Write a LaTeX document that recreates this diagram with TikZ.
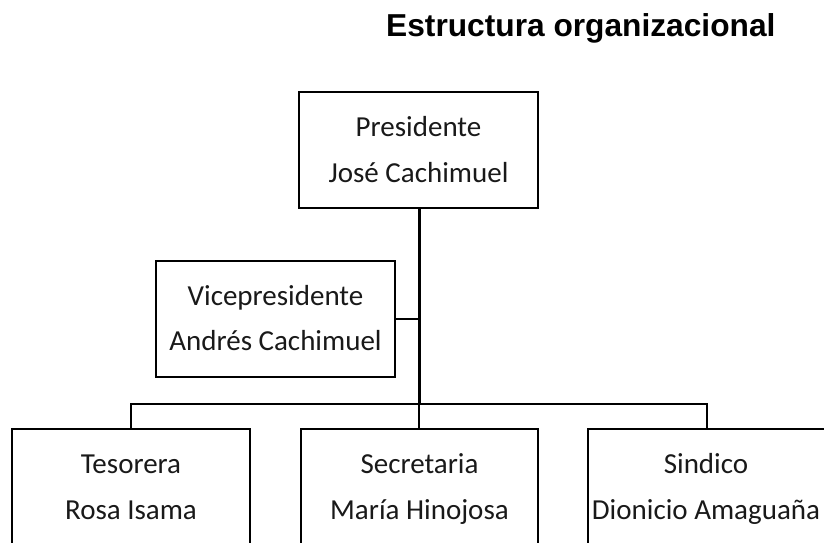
\documentclass[tikz,border=0pt]{standalone}
\usepackage{fontspec}
\setmainfont{Carlito}
\newfontfamily\titlefont{Liberation Sans}
\begin{document}
\begin{tikzpicture}[x=1pt,y=-1pt,
  box/.style={draw=black, line width=2pt, minimum width=239pt, minimum height=116pt, inner sep=0pt},
  lowbox/.style={box, anchor=north, minimum height=150pt},
  lbl/.style={anchor=base, inner sep=0pt, font=\fontsize{29}{34}\selectfont, text=black!90},
  conn/.style={draw=black, line width=1.8pt},
  mainconn/.style={draw=black, line width=3pt}]
\useasboundingbox (0,0) rectangle (824,542);
\clip (0,0) rectangle (824,542);

\node[anchor=base west, inner sep=0pt, font=\titlefont\bfseries\fontsize{31.7}{36}\selectfont] (title) at (386,36) {Estructura organizacional};

% boxes
\node[box] (pres) at (418.5,150) {};
\node[box] (vice) at (275.5,319) {};
\node[lowbox, minimum width=238pt] (tes) at (131,428) {};
\node[lowbox, minimum width=237pt] (sec) at (419.5,428) {};
\node[lowbox, minimum width=238pt] (sin) at (707,428) {};

% labels
\node[lbl] (presA) at (418.5,136) {Presidente};
\node[lbl] (presB) at (418.5,182) {José Cachimuel};
\node[lbl] (viceA) at (275.5,305) {Vicepresidente};
\node[lbl] (viceB) at (275.5,350) {Andrés Cachimuel};
\node[lbl] (tesA) at (131,473) {Tesorera};
\node[lbl] (tesB) at (131,519) {Rosa Isama};
\node[lbl] (secA) at (419.5,473) {Secretaria};
\node[lbl] (secB) at (419.5,519) {María Hinojosa};
\node[lbl] (sinA) at (706,473) {Sindico};
\node[lbl] (sinB) at (706,519) {Dionicio Amaguaña};

% connectors
\coordinate (busc) at (419,404);
\draw[mainconn] (pres.south -| busc) -- (busc);
\draw[conn] (vice.east) -- (vice.east -| busc);
\draw[conn] (tes.north) -- (tes.north |- busc) -- (sin.north |- busc) -- (sin.north);
\draw[conn] (busc) -- (busc |- sec.north);
\end{tikzpicture}
\end{document}
